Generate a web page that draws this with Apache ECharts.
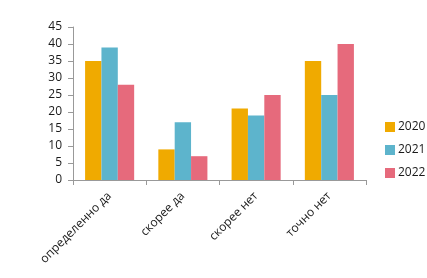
<!DOCTYPE html>
<html><head><meta charset="utf-8">
<script src="https://cdn.jsdelivr.net/npm/echarts@6/dist/echarts.min.js"></script>
<style>html,body{margin:0;padding:0;background:#fff}#c{width:427px;height:278px}</style>
</head><body><div id="c"></div>
<script>
const categories = ["определенно да", "скорее да", "скорее нет", "точно нет"];
const s2020 = [35, 9, 21, 35];
const s2021 = [39, 17, 19, 25];
const s2022 = [28, 7, 25, 40];
const seriesNames = ["2020", "2021", "2022"];
const colors = ["#F0AA00", "#5DB4CC", "#E66A7C"];
const data = [s2020, s2021, s2022];

const chart = echarts.init(document.getElementById('c'), null, {renderer: 'canvas'});
chart.setOption({
  animation: false,
  textStyle: {fontFamily: 'Open Sans, Liberation Sans, sans-serif'},
  grid: {left: 73, right: 61, top: 27, bottom: 98},
  legend: {
    orient: 'vertical', left: 380, top: 116, itemWidth: 10, itemHeight: 10, itemGap: 11,
    icon: 'rect',
    textStyle: {fontSize: 12, color: '#1a1a1a', padding: [0,0,0,-2]},
    data: seriesNames
  },
  xAxis: {
    type: 'category', data: categories,
    axisLine: {lineStyle: {color: '#999'}},
    axisTick: {show: true, alignWithLabel: false, length: 5, lineStyle: {color: '#999'}},
    axisLabel: {rotate: 45, fontSize: 12, color: '#1a1a1a', margin: 14, interval: 0}
  },
  yAxis: {
    type: 'value', min: 0, max: 45, interval: 5,
    axisLine: {show: true, lineStyle: {color: '#999'}},
    axisTick: {show: true, length: 5, lineStyle: {color: '#999'}},
    splitLine: {show: false},
    axisLabel: {fontSize: 12, color: '#1a1a1a', margin: 11}
  },
  series: seriesNames.map((n, i) => ({
    name: n, type: 'bar', data: data[i],
    barGap: '0%', barCategoryGap: '33%',
    itemStyle: {color: colors[i]}
  }))
});
</script></body></html>
